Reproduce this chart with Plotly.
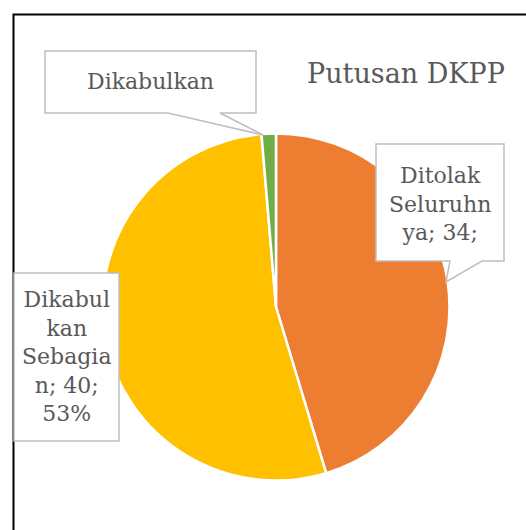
import plotly.graph_objects as go

# ---- data ----
categories = ["Ditolak Seluruhnya", "Dikabulkan Sebagian", "Dikabulkan"]
values = [34, 40, 1]
colors = ["#ED7D31", "#FFC000", "#70AD47"]
title_text = "Putusan DKPP"

W, H = 526, 530
total = sum(values)


def px(x):
    return x / W


def py(y):
    return 1 - y / H


fig = go.Figure(
    go.Pie(
        labels=categories,
        values=values,
        marker=dict(colors=colors, line=dict(color="white", width=2.5)),
        sort=False,
        direction="clockwise",
        rotation=0,
        textinfo="none",
        hoverinfo="label+value+percent",
        showlegend=False,
        domain=dict(x=[px(102.5), px(449.5)], y=[py(480.5), py(133.5)]),
    )
)

GRAY_LINE = "#BFBFBF"
TXT = "#595959"
FONT = "DejaVu Serif"


def path_from(points):
    s = "M " + " L ".join(f"{px(x):.5f},{py(y):.5f}" for x, y in points) + " Z"
    return s


shapes = []
# outer chart border (black, runs off right and bottom)
shapes.append(dict(type="rect", xref="paper", yref="paper",
                   x0=px(13.5), x1=1.05, y0=-0.05, y1=py(14.5),
                   line=dict(color="black", width=2), fillcolor="rgba(0,0,0,0)",
                   layer="below"))
# callout for Dikabulkan
shapes.append(dict(type="path", xref="paper", yref="paper",
                   path=path_from([(45, 51), (256, 51), (256, 113), (220, 113),
                                   (263, 135), (168, 113), (45, 113)]),
                   line=dict(color=GRAY_LINE, width=1.5), fillcolor="white", layer="above"))
# callout for Ditolak Seluruhnya
shapes.append(dict(type="path", xref="paper", yref="paper",
                   path=path_from([(376, 144), (504, 144), (504, 261), (482, 261),
                                   (446, 282), (450, 261), (376, 261)]),
                   line=dict(color=GRAY_LINE, width=1.5), fillcolor="white", layer="above"))
# box for Dikabulkan Sebagian
shapes.append(dict(type="path", xref="paper", yref="paper",
                   path=path_from([(14, 273), (119, 273), (119, 441), (14, 441)]),
                   line=dict(color=GRAY_LINE, width=1.5), fillcolor="white", layer="above"))

pct_sebagian = round(values[1] / total * 100)
label_ditolak = "Ditolak<br>Seluruhn<br>ya; " + f"{values[0]};"
label_sebagian = "Dikabul<br>kan<br>Sebagia<br>n; " + f"{values[1]};<br>{pct_sebagian}%"
label_dikabulkan = categories[2]

annotations = [
    dict(text=title_text, x=px(406), y=py(74), xref="paper", yref="paper",
         showarrow=False, xanchor="center", yanchor="middle",
         font=dict(family=FONT, size=27, color=TXT)),
    dict(text=label_dikabulkan, x=px(150.5), y=py(82), xref="paper", yref="paper",
         showarrow=False, xanchor="center", yanchor="middle",
         font=dict(family=FONT, size=22, color=TXT)),
    dict(text=label_ditolak, x=px(440), y=py(204), xref="paper", yref="paper",
         showarrow=False, xanchor="center", yanchor="middle",
         font=dict(family=FONT, size=22, color=TXT)),
    dict(text=label_sebagian, x=px(66.5), y=py(356), xref="paper", yref="paper",
         showarrow=False, xanchor="center", yanchor="middle",
         font=dict(family=FONT, size=22, color=TXT)),
]

fig.update_layout(
    width=W, height=H, autosize=False,
    margin=dict(l=0, r=0, t=0, b=0),
    paper_bgcolor="white", plot_bgcolor="white",
    shapes=shapes, annotations=annotations,
)

fig.write_html("out.html", config={"displayModeBar": False},
               post_script="document.body.style.margin='0px';")
